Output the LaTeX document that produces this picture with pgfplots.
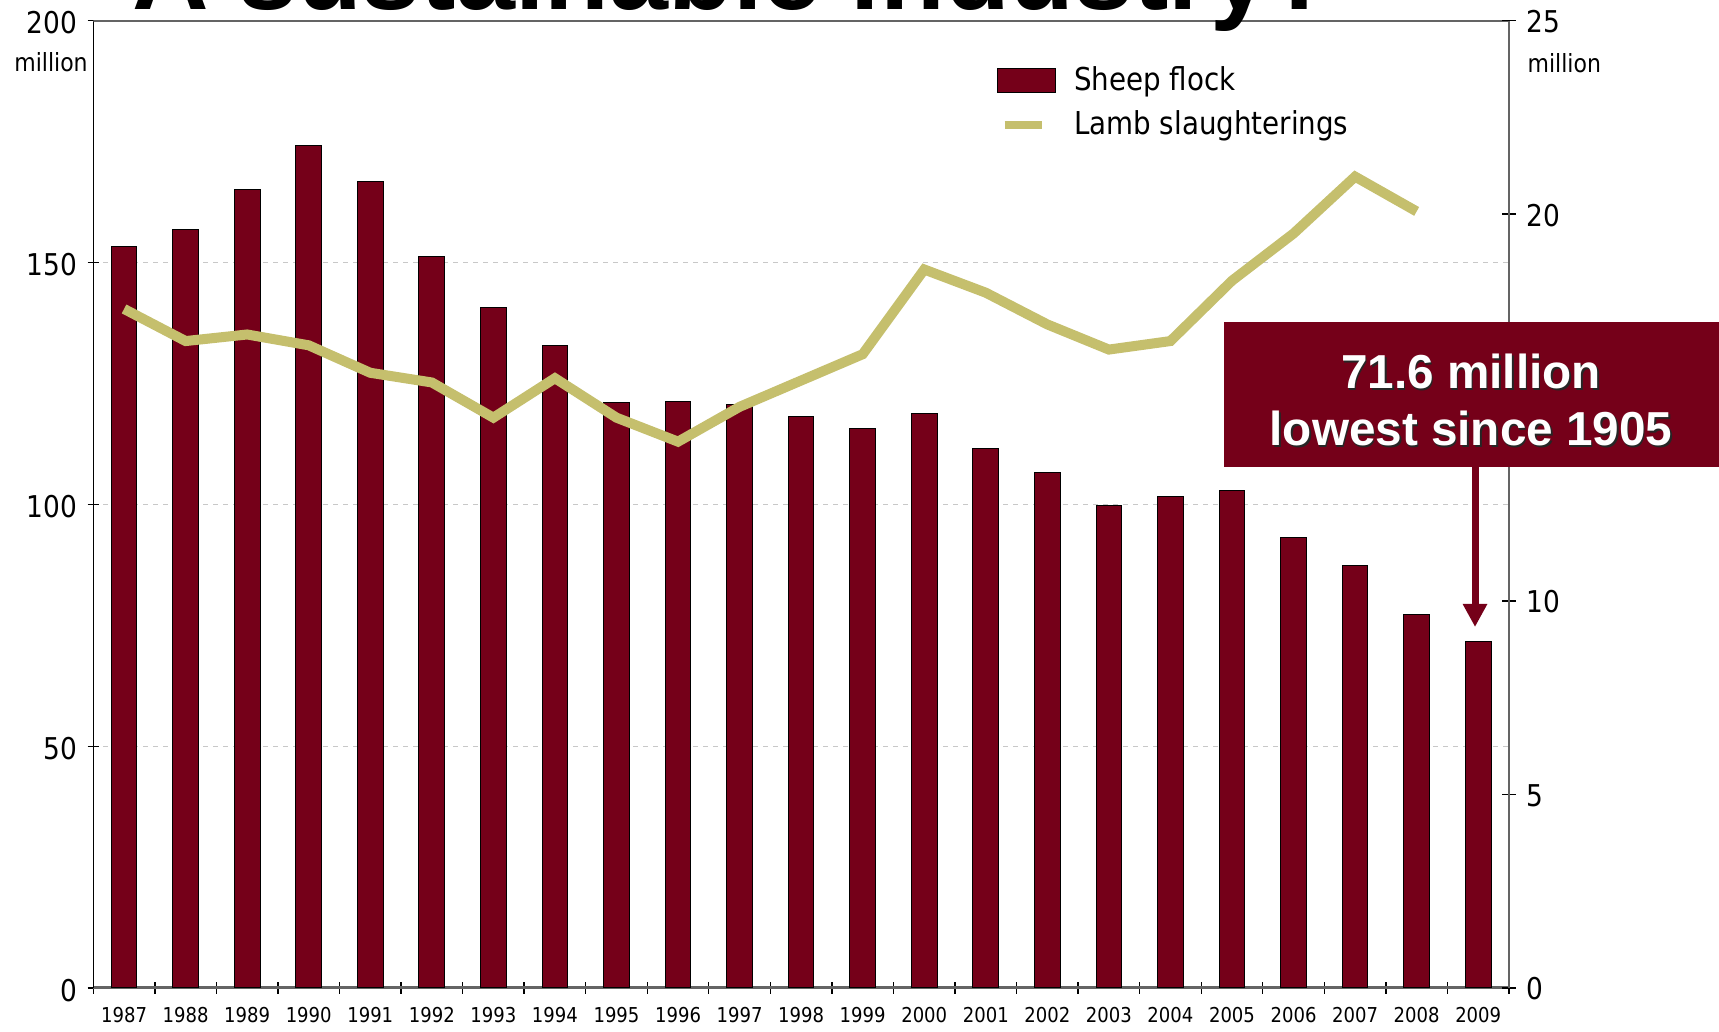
\documentclass[border=0pt]{standalone}
\usepackage{pgfplots}
\pgfplotsset{compat=1.18}
\usepackage{pgfplotstable}
\usepackage{fontspec}
\setmainfont{DejaVu Sans}[FakeStretch=0.88]
\newfontfamily\arial{Liberation Sans}
\usetikzlibrary{arrows.meta}
\definecolor{flock}{RGB}{117,0,25}
\definecolor{lamb}{RGB}{197,191,109}
\definecolor{axgray}{RGB}{100,100,100}
\definecolor{gridgray}{RGB}{200,200,200}

\pgfplotstableread{
idx year flock lamb
0 1987 153.3 17.55
1 1988 156.9 16.72
2 1989 165.1 16.89
3 1990 174.1 16.61
4 1991 166.7 15.90
5 1992 151.2 15.65
6 1993 140.8 14.74
7 1994 132.9 15.76
8 1995 121.1 14.74
9 1996 121.3 14.12
10 1997 120.6 15.02
11 1998 118.1 15.70
12 1999 115.6 16.38
13 2000 118.8 18.57
14 2001 111.6 17.97
15 2002 106.6 17.15
16 2003 99.8 16.50
17 2004 101.6 16.72
18 2005 102.9 18.28
19 2006 93.2 19.50
20 2007 87.3 20.97
21 2008 77.3 20.07
22 2009 71.6 nan
}\datatable

\begin{document}
\begin{tikzpicture}
\useasboundingbox (0,0) rectangle (515.7pt,309.6pt);
\clip (0,0) rectangle (515.7pt,309.6pt);

% ---------- left axis: sheep flock ----------
\begin{axis}[
  at={(27.99pt,13.2pt)}, anchor=south west,
  scale only axis, width=424.7pt, height=290.19pt,
  xmin=-0.5, xmax=22.5, ymin=0, ymax=200,
  axis y line*=left, axis x line*=bottom,
  y axis line style={black, line width=0.4pt, -},
  x axis line style={axgray, line width=0.9pt, -},
  xtick={-0.5,0.5,...,22.5},
  x tick label as interval,
  xticklabels={1987,1988,1989,1990,1991,1992,1993,1994,1995,1996,1997,1998,1999,2000,2001,2002,2003,2004,2005,2006,2007,2008,2009},
  ytick={0,50,...,200},
  tick align=center,
  major tick length=3.4pt,
  tick style={black, line width=0.4pt},
  ymajorgrids,
  major grid style={gridgray, dash pattern=on 1.4pt off 1.6pt, line width=0.4pt},
  /pgf/number format/assume math mode=true,
  yticklabel style={font=\fontsize{9}{10}\selectfont, anchor=east, inner sep=0pt, xshift=-3pt, yshift=-0.7pt},
  xticklabel style={font=\fontsize{6.15}{7}\selectfont, anchor=north, inner sep=0pt, yshift=-4pt},
]
\addplot[ybar, bar width=7.7pt, fill=flock, draw=black, line width=0.3pt] table[x=idx, y=flock] {\datatable};
\draw[axgray, line width=0.5pt] (rel axis cs:0,1) -- (rel axis cs:1,1);
\end{axis}

% ---------- right axis: lamb slaughterings ----------
\begin{axis}[
  at={(27.99pt,13.2pt)}, anchor=south west,
  scale only axis, width=424.7pt, height=290.19pt,
  xmin=-0.5, xmax=22.5, ymin=0, ymax=25,
  axis y line*=right, axis x line=none,
  y axis line style={axgray, line width=0.6pt, -},
  ytick={0,5,...,25},
  tick align=center,
  major tick length=4.1pt,
  tick style={black, line width=0.4pt},
  /pgf/number format/assume math mode=true,
  yticklabel style={font=\fontsize{9}{10}\selectfont, anchor=west, inner sep=0pt, xshift=3pt, yshift=-0.3pt},
  legend style={at={(0.6384,0.953)}, anchor=north west, draw=none, fill=none,
    inner sep=0pt, outer sep=0pt, row sep=4.6pt,
    font=\fontsize{9.45}{11}\selectfont,
    nodes={inner sep=0pt},
    /tikz/every odd column/.append style={column sep=5.4pt}},
  legend cell align=left,
]
\addlegendimage{legend image code/.code={\draw[fill=flock, draw=black, line width=0.3pt] (0pt,-3.6pt) rectangle (17.4pt,3.6pt);}}
\addlegendentry{Sheep flock}
\addplot[lamb, line width=3pt, unbounded coords=jump,
  legend image code/.code={\draw[lamb, line width=2.4pt] (2.1pt,0pt) -- (13.3pt,0pt);}]
  table[x=idx, y=lamb] {\datatable};
\addlegendentry{Lamb slaughterings}
\end{axis}

% ---------- axis unit labels ----------
\node[anchor=east, inner sep=0pt, font=\fontsize{7.5}{9}\selectfont] at (26.5pt,291pt) {million};
\node[anchor=west, inner sep=0pt, font=\fontsize{7.5}{9}\selectfont] at (458.1pt,290.6pt) {million};

% ---------- annotation ----------
\fill[flock] (367.2pt,169.5pt) rectangle (520pt,213pt);
\draw[flock, line width=2.1pt, -{Triangle[width=6.9pt,length=6.9pt]}] (442.5pt,169.5pt) -- (442.5pt,121.5pt);
\begin{scope}[font=\arial\bfseries\fontsize{14.3}{17}\selectfont]
\node[anchor=base, inner sep=0pt, text=black!85] at (441.75pt,192.45pt) {71.6 million};
\node[anchor=base, inner sep=0pt, text=white] at (441.3pt,192.9pt) {71.6 million};
\node[anchor=base, inner sep=0pt, text=black!85] at (441.75pt,175.35pt) {lowest since 1905};
\node[anchor=base, inner sep=0pt, text=white] at (441.3pt,175.8pt) {lowest since 1905};
\end{scope}

% ---------- title (cut off at the top) ----------
\node[anchor=base west, inner sep=0pt, font=\arial\bfseries\fontsize{31.8}{36}\selectfont] at (39.5pt,306.75pt) {A sustainable industry?};
\end{tikzpicture}
\end{document}
